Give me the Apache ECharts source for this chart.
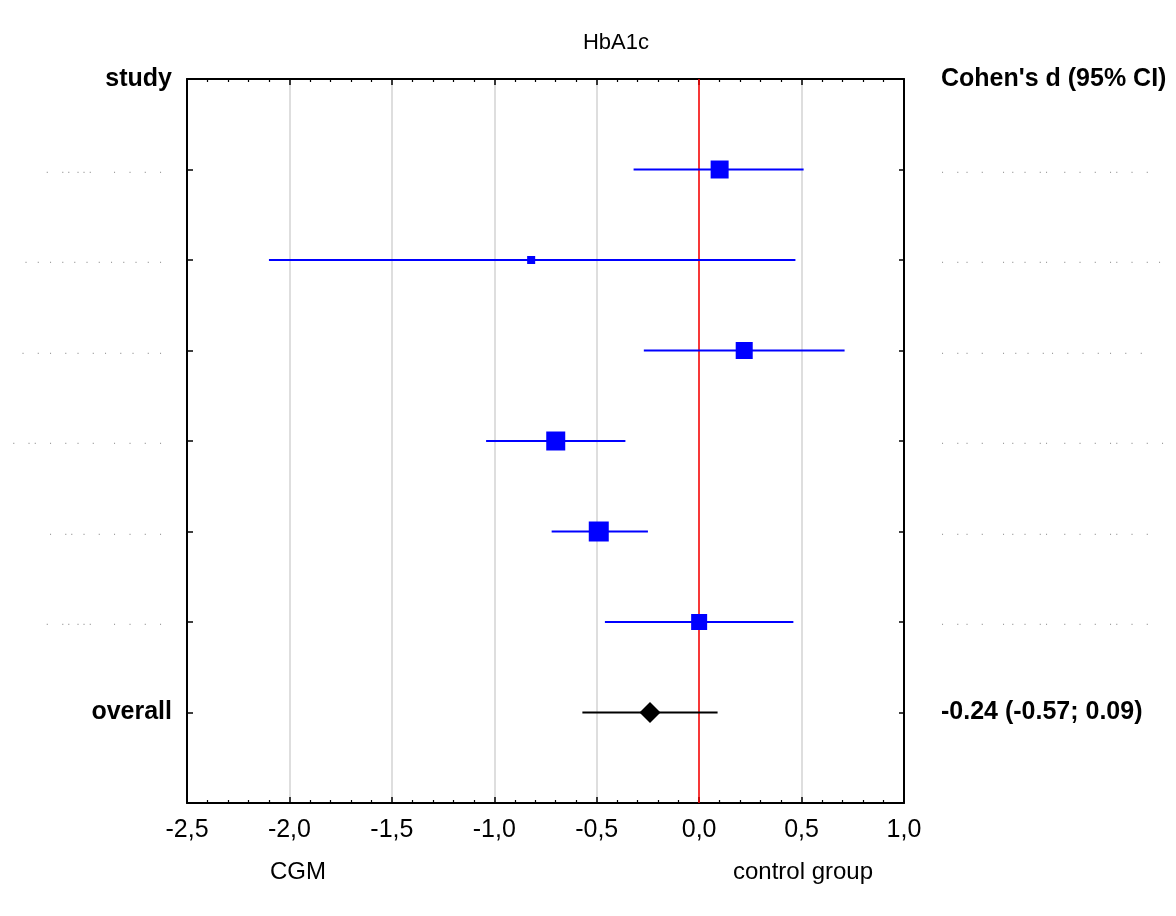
<!DOCTYPE html>
<html>
<head>
<meta charset="utf-8">
<script src="https://cdn.jsdelivr.net/npm/echarts@6/dist/echarts.min.js"></script>
<style>html,body{margin:0;padding:0;background:#fff}#c{width:1176px;height:916px}</style>
</head>
<body>
<div id="c"></div>
<script>
// ---- data ----
const titleText = 'HbA1c';
const leftHeader = 'study';
const rightHeader = "Cohen's d (95% CI)";
const overallLabel = 'overall';
const overallText = '-0.24 (-0.57; 0.09)';
// study names and per-study CIs are unreadable (dotted) in the reference
const studyNames = [
  '.    . .  . . .       .    .    .    .',
  '.   .   .   .   .   .   .   .   .   .   .   .',
  '.    .   .    .   .    .   .    .   .    .   .',
  '.     .    . .    .    .   .    .      .    .    .    .',
  '.    . .   .    .    .    .    .    .',
  '.    . .  . . .       .    .    .    .'
];
const studyCI = [
  '.    .  .    .      .  .   .    . .     .    .    .    . .    .    .',
  '.    .  .    .      .  .   .    . .     .    .    .    . .    .    .   .',
  '.    .  .    .      .   .   .    .  .    .    .    .   .    .    .',
  '.    .  .    .      .  .   .    . .     .    .    .    . .    .    .    .    .',
  '.    .  .    .      .  .   .    . .     .    .    .    . .    .    .',
  '.    .  .    .      .  .   .    . .     .    .    .    . .    .    .'
];
const studyRows = [1, 2, 3, 4, 5, 6];
const effect = [0.10, -0.82, 0.22, -0.70, -0.49, 0.00];
const lower = [-0.32, -2.10, -0.27, -1.04, -0.72, -0.46];
const upper = [0.51, 0.47, 0.71, -0.36, -0.25, 0.46];
const weights = [19.1, 3.8, 17.1, 21.3, 23.6, 15.1];
const overallRow = 7;
const overallEffect = -0.24;
const overallLower = -0.57;
const overallUpper = 0.09;
const xTicks = [-2.5, -2.0, -1.5, -1.0, -0.5, 0.0, 0.5, 1.0];
const footLeft = 'CGM';
const footRight = 'control group';

// ---- chart ----
const FONT = '"Liberation Sans", Arial, sans-serif';
const chart = echarts.init(document.getElementById('c'));
const maxW = Math.max(...weights);

const leftLabels = [leftHeader, ...studyNames, overallLabel, ''];
const rightLabels = [rightHeader, ...studyCI, overallText, ''];

const studyData = studyRows.map((r, i) => [effect[i], r, lower[i], upper[i], weights[i]]);

function labelFmt(arr, dotStyle) {
  return function (v) {
    const k = Math.round(v);
    const t = arr[k];
    if (t === undefined || t === '') return '';
    if (k === 0 || k === overallRow) return '{b|' + t + '}';
    return '{' + dotStyle + '|' + t + '}';
  };
}
const richStyle = {
  b: { fontFamily: FONT, fontSize: 25, fontWeight: 'bold', color: '#000' },
  dl: { fontFamily: FONT, fontSize: 11, color: '#a0a0a0', padding: [0, 10, 0, 0] },
  dr: { fontFamily: FONT, fontSize: 11, color: '#a0a0a0', padding: [0, 0, 0, 0] }
};

const xCommon = {
  type: 'value', min: -2.5, max: 1.0, interval: 0.5,
  axisLine: { show: true, onZero: false, lineStyle: { color: '#000', width: 2 } },
  axisTick: { show: true, inside: true, length: 6, lineStyle: { color: '#000', width: 1.5 } },
  minorTick: { show: true, splitNumber: 5, length: 3, lineStyle: { color: '#000', width: 1.2 } },
};

const yCommon = {
  type: 'value', min: 0, max: 8, interval: 1, inverse: true,
  axisLine: { show: true, onZero: false, lineStyle: { color: '#000', width: 2 } },
  axisTick: { show: true, inside: true, length: 6, lineStyle: { color: '#000', width: 1.5 } },
  splitLine: { show: false }
};

chart.setOption({
  animation: false,
  title: {
    text: titleText, left: 611, top: 27, textAlign: 'center',
    textStyle: { fontFamily: FONT, fontSize: 22, fontWeight: 'normal', color: '#000' }
  },
  grid: { left: 187, right: 272, top: 79, bottom: 113, containLabel: false, outerBoundsMode: 'none' },
  xAxis: [
    Object.assign({}, xCommon, {
      position: 'bottom',
      axisLabel: {
        margin: 15, fontFamily: FONT, fontSize: 25, color: '#000',
        formatter: v => v.toFixed(1).replace('.', ',')
      },
      splitLine: { show: true, lineStyle: { color: '#d3d3d3', width: 1.5 } }
    }),
    Object.assign({}, xCommon, {
      position: 'top',
      axisLabel: { show: false },
      splitLine: { show: false }
    })
  ],
  yAxis: [
    Object.assign({}, yCommon, {
      position: 'left',
      axisLabel: { margin: 15, formatter: labelFmt(leftLabels, 'dl'), rich: richStyle, align: 'right' }
    }),
    Object.assign({}, yCommon, {
      position: 'right',
      axisTick: { show: true, inside: true, length: 5, lineStyle: { color: '#000', width: 1.5 } },
      axisLabel: { margin: 37, formatter: labelFmt(rightLabels, 'dr'), rich: richStyle, align: 'left' }
    })
  ],
  series: [
    {
      type: 'custom',
      xAxisIndex: 0, yAxisIndex: 0,
      data: studyData,
      z: 5,
      markLine: {
        silent: true, symbol: ['none', 'none'],
        label: { show: false },
        lineStyle: { color: '#ff0000', width: 1.5, type: 'solid' },
        emphasis: { disabled: true },
        data: [{ xAxis: 0 }]
      },
      renderItem: function (params, api) {
        const c = api.coord([api.value(0), api.value(1)]);
        const l = api.coord([api.value(2), api.value(1)]);
        const u = api.coord([api.value(3), api.value(1)]);
        const s = 20 * Math.sqrt(api.value(4) / maxW);
        return {
          type: 'group',
          children: [
            { type: 'line', shape: { x1: l[0], y1: c[1], x2: u[0], y2: c[1] }, style: { stroke: '#0000ff', lineWidth: 2 } },
            { type: 'rect', shape: { x: c[0] - s / 2, y: c[1] - s / 2, width: s, height: s }, style: { fill: '#0000ff' } }
          ]
        };
      }
    },
    {
      type: 'custom',
      xAxisIndex: 0, yAxisIndex: 0,
      data: [[overallEffect, overallRow, overallLower, overallUpper]],
      z: 5,
      renderItem: function (params, api) {
        const c = api.coord([api.value(0), api.value(1)]);
        const l = api.coord([api.value(2), api.value(1)]);
        const u = api.coord([api.value(3), api.value(1)]);
        const h = 10.5;
        return {
          type: 'group',
          children: [
            { type: 'line', shape: { x1: l[0], y1: c[1], x2: u[0], y2: c[1] }, style: { stroke: '#000', lineWidth: 2 } },
            { type: 'polygon', shape: { points: [[c[0] - h, c[1]], [c[0], c[1] - h], [c[0] + h, c[1]], [c[0], c[1] + h]] }, style: { fill: '#000' } }
          ]
        };
      }
    }
  ],
  graphic: [
    { type: 'text', x: 298, y: 872, style: { text: footLeft, font: '24px ' + FONT, fill: '#000', align: 'center', verticalAlign: 'middle' } },
    { type: 'text', x: 803, y: 872, style: { text: footRight, font: '24px ' + FONT, fill: '#000', align: 'center', verticalAlign: 'middle' } }
  ]
});
</script>
</body>
</html>
